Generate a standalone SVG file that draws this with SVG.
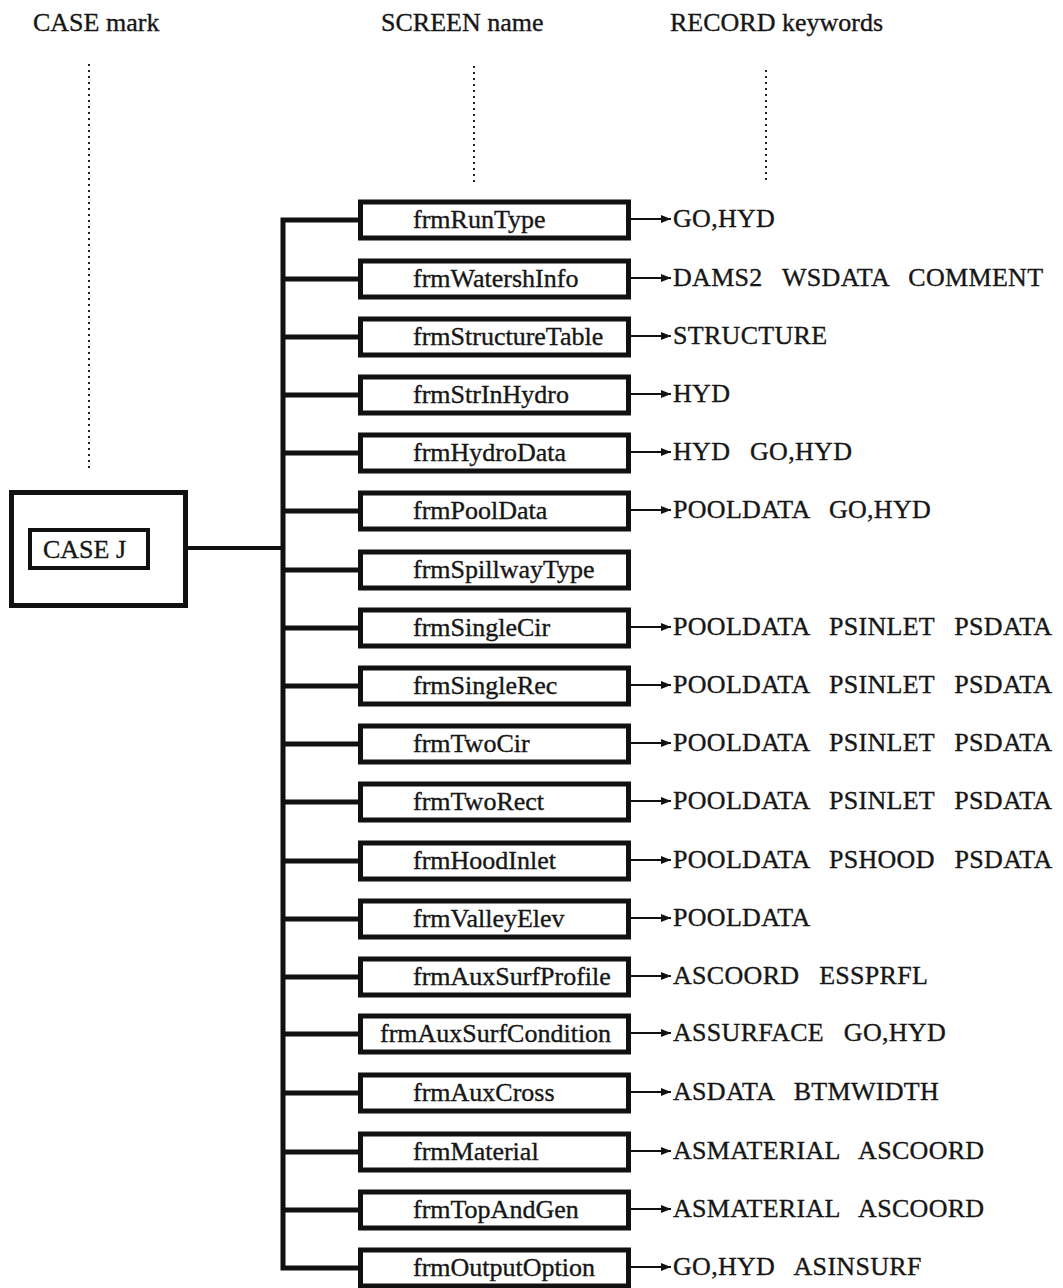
<svg xmlns="http://www.w3.org/2000/svg" width="1063" height="1288" viewBox="0 0 1063 1288">
<style>
text{font-family:"Liberation Serif","Times New Roman",serif;font-size:26px;fill:#161616;stroke:#161616;stroke-width:0.35}
.box{fill:#fff;stroke:#111;stroke-width:5}
.conn{stroke:#111;stroke-width:5;fill:none}
.arr{stroke:#111;stroke-width:2;fill:none;marker-end:url(#ah)}
.dot{stroke:#222;stroke-width:2;stroke-dasharray:2 4;fill:none}
.lbl{word-spacing:13px;letter-spacing:0.3px}
</style>
<defs>
<marker id="ah" viewBox="0 0 10 8" refX="10" refY="4" markerWidth="10" markerHeight="8" markerUnits="userSpaceOnUse" orient="auto">
<path d="M0,0 L10,4 L0,8 z" fill="#111"/>
</marker>
</defs>
<g id="headers">
<text x="33" y="31">CASE mark</text>
<text x="381" y="31">SCREEN name</text>
<text x="670" y="31">RECORD keywords</text>
<line class="dot" x1="89" y1="64" x2="89" y2="472"/>
<line class="dot" x1="474" y1="66" x2="474" y2="183"/>
<line class="dot" x1="766" y1="70" x2="766" y2="182"/>
</g>
<g id="connectors">
<line class="conn" x1="188" y1="548" x2="283" y2="548" style="stroke-width:4"/>
<path class="conn" d="M358,220 H283 V1268 H358"/>
<line class="conn" x1="283" y1="279" x2="358" y2="279"/>
<line class="conn" x1="283" y1="337" x2="358" y2="337"/>
<line class="conn" x1="283" y1="395" x2="358" y2="395"/>
<line class="conn" x1="283" y1="453" x2="358" y2="453"/>
<line class="conn" x1="283" y1="511" x2="358" y2="511"/>
<line class="conn" x1="283" y1="570" x2="358" y2="570"/>
<line class="conn" x1="283" y1="628" x2="358" y2="628"/>
<line class="conn" x1="283" y1="686" x2="358" y2="686"/>
<line class="conn" x1="283" y1="744" x2="358" y2="744"/>
<line class="conn" x1="283" y1="802" x2="358" y2="802"/>
<line class="conn" x1="283" y1="861" x2="358" y2="861"/>
<line class="conn" x1="283" y1="919" x2="358" y2="919"/>
<line class="conn" x1="283" y1="977" x2="358" y2="977"/>
<line class="conn" x1="283" y1="1034" x2="358" y2="1034"/>
<line class="conn" x1="283" y1="1093" x2="358" y2="1093"/>
<line class="conn" x1="283" y1="1152" x2="358" y2="1152"/>
<line class="conn" x1="283" y1="1210" x2="358" y2="1210"/>
<line class="arr" x1="631" y1="219" x2="671" y2="219"/>
<line class="arr" x1="631" y1="278" x2="671" y2="278"/>
<line class="arr" x1="631" y1="336" x2="671" y2="336"/>
<line class="arr" x1="631" y1="394" x2="671" y2="394"/>
<line class="arr" x1="631" y1="452" x2="671" y2="452"/>
<line class="arr" x1="631" y1="510" x2="671" y2="510"/>
<line class="arr" x1="631" y1="627" x2="671" y2="627"/>
<line class="arr" x1="631" y1="685" x2="671" y2="685"/>
<line class="arr" x1="631" y1="743" x2="671" y2="743"/>
<line class="arr" x1="631" y1="801" x2="671" y2="801"/>
<line class="arr" x1="631" y1="860" x2="671" y2="860"/>
<line class="arr" x1="631" y1="918" x2="671" y2="918"/>
<line class="arr" x1="631" y1="976" x2="671" y2="976"/>
<line class="arr" x1="631" y1="1033" x2="671" y2="1033"/>
<line class="arr" x1="631" y1="1092" x2="671" y2="1092"/>
<line class="arr" x1="631" y1="1151" x2="671" y2="1151"/>
<line class="arr" x1="631" y1="1209" x2="671" y2="1209"/>
<line class="arr" x1="631" y1="1267" x2="671" y2="1267"/>
</g>
<g id="caseJ">
<rect class="box" x="11.5" y="492.5" width="174" height="113"/>
<rect class="box" x="30" y="530" width="118" height="38" style="stroke-width:4"/>
<text x="43" y="558">CASE J</text>
</g>
<g id="n0"><rect class="box" x="360.5" y="202" width="268" height="36"/><text x="413" y="228">frmRunType</text></g>
<g id="n1"><rect class="box" x="360.5" y="261" width="268" height="36"/><text x="413" y="287">frmWatershInfo</text></g>
<g id="n2"><rect class="box" x="360.5" y="319" width="268" height="36"/><text x="413" y="345">frmStructureTable</text></g>
<g id="n3"><rect class="box" x="360.5" y="377" width="268" height="36"/><text x="413" y="403">frmStrInHydro</text></g>
<g id="n4"><rect class="box" x="360.5" y="435" width="268" height="36"/><text x="413" y="461">frmHydroData</text></g>
<g id="n5"><rect class="box" x="360.5" y="493" width="268" height="36"/><text x="413" y="519">frmPoolData</text></g>
<g id="n6"><rect class="box" x="360.5" y="552" width="268" height="36"/><text x="413" y="578">frmSpillwayType</text></g>
<g id="n7"><rect class="box" x="360.5" y="610" width="268" height="36"/><text x="413" y="636">frmSingleCir</text></g>
<g id="n8"><rect class="box" x="360.5" y="668" width="268" height="36"/><text x="413" y="694">frmSingleRec</text></g>
<g id="n9"><rect class="box" x="360.5" y="726" width="268" height="36"/><text x="413" y="752">frmTwoCir</text></g>
<g id="n10"><rect class="box" x="360.5" y="784" width="268" height="36"/><text x="413" y="810">frmTwoRect</text></g>
<g id="n11"><rect class="box" x="360.5" y="843" width="268" height="36"/><text x="413" y="869">frmHoodInlet</text></g>
<g id="n12"><rect class="box" x="360.5" y="901" width="268" height="36"/><text x="413" y="927">frmValleyElev</text></g>
<g id="n13"><rect class="box" x="360.5" y="959" width="268" height="36"/><text x="413" y="985">frmAuxSurfProfile</text></g>
<g id="n14"><rect class="box" x="360.5" y="1016" width="268" height="36"/><text x="380" y="1042">frmAuxSurfCondition</text></g>
<g id="n15"><rect class="box" x="360.5" y="1075" width="268" height="36"/><text x="413" y="1101">frmAuxCross</text></g>
<g id="n16"><rect class="box" x="360.5" y="1134" width="268" height="36"/><text x="413" y="1160">frmMaterial</text></g>
<g id="n17"><rect class="box" x="360.5" y="1192" width="268" height="36"/><text x="413" y="1218">frmTopAndGen</text></g>
<g id="n18"><rect class="box" x="360.5" y="1250" width="268" height="36"/><text x="413" y="1276">frmOutputOption</text></g>
<g id="keywords">
<text class="lbl" x="673" y="227">GO,HYD</text>
<text class="lbl" x="673" y="286">DAMS2 WSDATA COMMENT</text>
<text class="lbl" x="673" y="344">STRUCTURE</text>
<text class="lbl" x="673" y="402">HYD</text>
<text class="lbl" x="673" y="460">HYD GO,HYD</text>
<text class="lbl" x="673" y="518">POOLDATA GO,HYD</text>
<text class="lbl" x="673" y="635">POOLDATA PSINLET PSDATA</text>
<text class="lbl" x="673" y="693">POOLDATA PSINLET PSDATA</text>
<text class="lbl" x="673" y="751">POOLDATA PSINLET PSDATA</text>
<text class="lbl" x="673" y="809">POOLDATA PSINLET PSDATA</text>
<text class="lbl" x="673" y="868">POOLDATA PSHOOD PSDATA</text>
<text class="lbl" x="673" y="926">POOLDATA</text>
<text class="lbl" x="673" y="984">ASCOORD ESSPRFL</text>
<text class="lbl" x="673" y="1041">ASSURFACE GO,HYD</text>
<text class="lbl" x="673" y="1100">ASDATA BTMWIDTH</text>
<text class="lbl" x="673" y="1159">ASMATERIAL ASCOORD</text>
<text class="lbl" x="673" y="1217">ASMATERIAL ASCOORD</text>
<text class="lbl" x="673" y="1275">GO,HYD ASINSURF</text>
</g>
</svg>
